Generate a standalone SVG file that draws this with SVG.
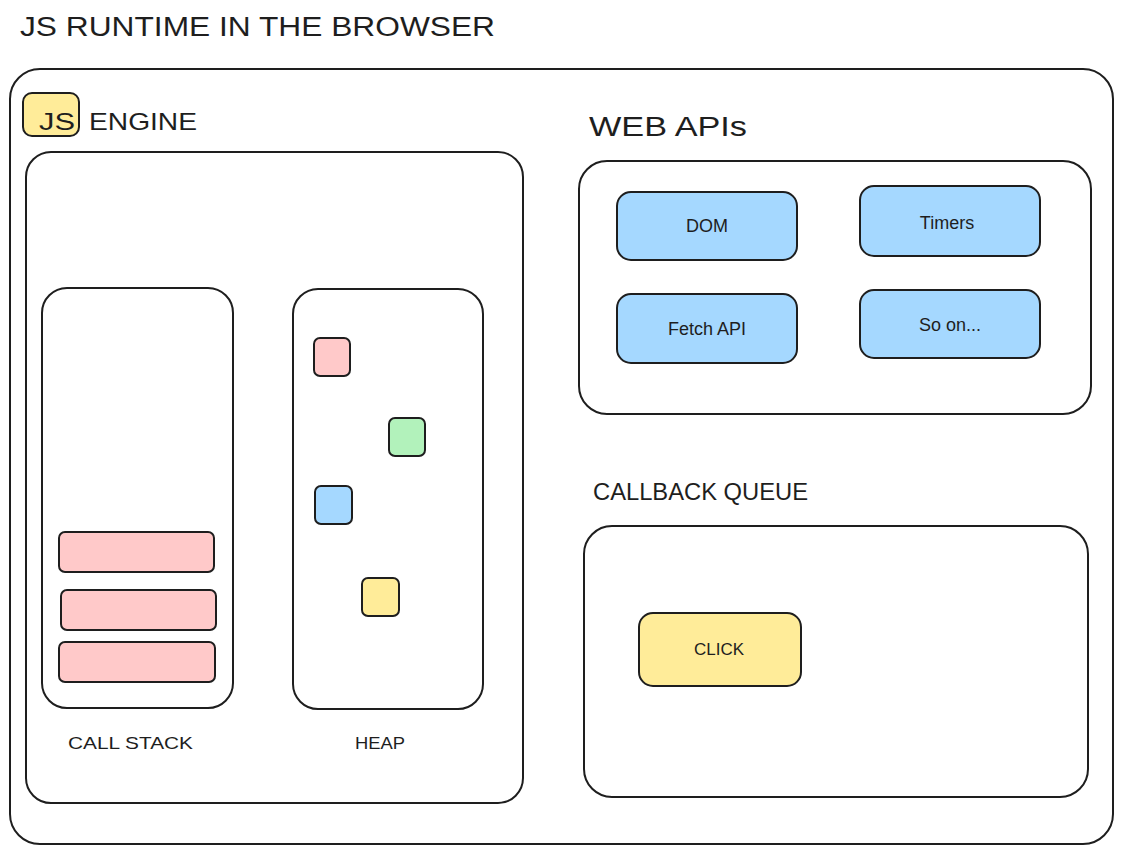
<svg xmlns="http://www.w3.org/2000/svg" width="1123" height="854" viewBox="0 0 1123 854">
<style>
.box{fill:#ffffff;stroke:#1e1e1e;stroke-width:2}
.pink{fill:#ffc9c9;stroke:#1e1e1e;stroke-width:2}
.green{fill:#b2f2bb;stroke:#1e1e1e;stroke-width:2}
.blue{fill:#a5d8ff;stroke:#1e1e1e;stroke-width:2}
.yellow{fill:#ffec99;stroke:#1e1e1e;stroke-width:2}
text{font-family:"Liberation Sans",Arial,sans-serif;fill:#1e1e1e}
.h1{font-size:27px}
.h2{font-size:24px}
.lbl{font-size:17px}
.cap{font-size:18px}
</style>
<rect width="1123" height="854" fill="#ffffff"/>
<text id="title" class="h1" x="20" y="36" textLength="475" lengthAdjust="spacingAndGlyphs">JS RUNTIME IN THE BROWSER</text>
<g id="runtime">
<rect class="box" x="10" y="69" width="1103" height="775" rx="30"/>
</g>
<g id="engine">
<rect class="yellow" x="23" y="93" width="56" height="43" rx="9"/>
<text class="h2" x="39" y="130" textLength="36" lengthAdjust="spacingAndGlyphs">JS</text>
<text class="h2" x="89" y="130" textLength="108" lengthAdjust="spacingAndGlyphs">ENGINE</text>
<rect class="box" x="26" y="152" width="497" height="651" rx="25"/>
</g>
<g id="callstack">
<rect class="box" x="42" y="288" width="191" height="420" rx="25"/>
<rect class="pink" x="59" y="532" width="155" height="40" rx="6"/>
<rect class="pink" x="61" y="590" width="155" height="40" rx="6"/>
<rect class="pink" x="59" y="642" width="156" height="40" rx="6"/>
<text class="lbl" x="68" y="749" textLength="125" lengthAdjust="spacingAndGlyphs">CALL STACK</text>
</g>
<g id="heap">
<rect class="box" x="293" y="289" width="190" height="420" rx="25"/>
<rect class="pink" x="314" y="338" width="36" height="38" rx="6"/>
<rect class="green" x="389" y="418" width="36" height="38" rx="6"/>
<rect class="blue" x="315" y="486" width="37" height="38" rx="6"/>
<rect class="yellow" x="362" y="578" width="37" height="38" rx="6"/>
<text class="lbl" x="355" y="749" textLength="50" lengthAdjust="spacingAndGlyphs">HEAP</text>
</g>
<g id="webapis">
<text class="h1" x="589" y="136" textLength="158" lengthAdjust="spacingAndGlyphs">WEB APIs</text>
<rect class="box" x="579" y="161" width="512" height="253" rx="28"/>
</g>
<g id="dom">
<rect class="blue" x="617" y="192" width="180" height="68" rx="14"/>
<text class="cap" x="707" y="232" text-anchor="middle">DOM</text>
</g>
<g id="timers">
<rect class="blue" x="860" y="186" width="180" height="70" rx="14"/>
<text class="cap" x="947" y="229" text-anchor="middle">Timers</text>
</g>
<g id="fetch">
<rect class="blue" x="617" y="294" width="180" height="69" rx="14"/>
<text class="cap" x="707" y="335" text-anchor="middle">Fetch API</text>
</g>
<g id="soon">
<rect class="blue" x="860" y="290" width="180" height="68" rx="14"/>
<text class="cap" x="950" y="331" text-anchor="middle">So on...</text>
</g>
<g id="callbackqueue">
<text class="h2" x="593" y="500" textLength="215" lengthAdjust="spacingAndGlyphs">CALLBACK QUEUE</text>
<rect class="box" x="584" y="526" width="504" height="271" rx="28"/>
</g>
<g id="click">
<rect class="yellow" x="639" y="613" width="162" height="73" rx="14"/>
<text class="lbl" x="719" y="655" text-anchor="middle">CLICK</text>
</g>
<g id="connectors"></g>
</svg>
